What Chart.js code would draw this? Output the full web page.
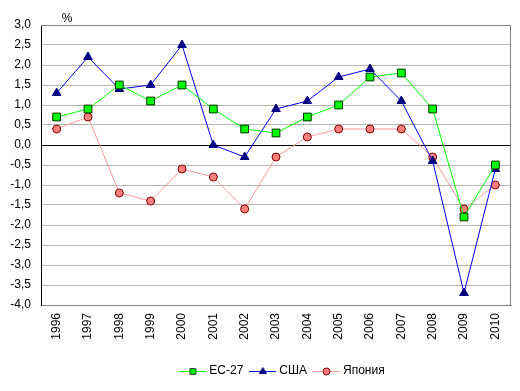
<!DOCTYPE html>
<html>
<head>
<meta charset="utf-8">
<script src="https://cdn.jsdelivr.net/npm/chart.js@4.4.0/dist/chart.umd.min.js"></script>
<style>
  html, body { margin: 0; padding: 0; background: #fff; }
  #wrap { width: 520px; height: 391px; position: relative; }
</style>
</head>
<body>
<div id="wrap"><canvas id="grafico" width="520" height="391"></canvas></div>
<script>
// годы
const years = ['1996','1997','1998','1999','2000','2001','2002','2003','2004','2005','2006','2007','2008','2009','2010'];
// рост, %
const ec27 = [0.7, 0.9, 1.5, 1.1, 1.5, 0.9, 0.4, 0.3, 0.7, 1.0, 1.7, 1.8, 0.9, -1.8, -0.5];
const usa = [1.3, 2.2, 1.4, 1.5, 2.5, 0.0, -0.3, 0.9, 1.1, 1.7, 1.9, 1.1, -0.4, -3.7, -0.6];
const japan = [0.4, 0.7, -1.2, -1.4, -0.6, -0.8, -1.6, -0.3, 0.2, 0.4, 0.4, 0.4, -0.3, -1.6, -1.0];
const seriesNames = ['ЕС-27', 'США', 'Япония'];
const yMin = -4, yMax = 3, yStep = 0.5;

Chart.defaults.font.family = '"Liberation Sans", Arial, sans-serif';
Chart.defaults.font.size = 12;
Chart.defaults.color = '#000';

// маленькая картинка для легенды: линия + маркер
function legendIcon(lineColor, style, fill, border, r){
	let c = document.createElement('canvas');
	c.width = 27; c.height = 12;
	let ctx = c.getContext('2d');
	ctx.strokeStyle = lineColor;
	ctx.lineWidth = 1;
	ctx.beginPath();
	ctx.moveTo(0, 6.5); ctx.lineTo(27, 6.5);
	ctx.stroke();
	ctx.fillStyle = fill;
	ctx.strokeStyle = border;
	Chart.helpers.drawPoint(ctx, {pointStyle: style, radius: r, rotation: 0, borderWidth: 1}, 13.5, 6.5);
	return c;
}

const iconEC = legendIcon('#00ff00', 'rect', '#00ff00', '#003300', 4);
const iconUSA = legendIcon('#0000ff', 'triangle', '#000080', '#000080', 4);
const iconJP = legendIcon('#ff9999', 'circle', '#ff7f7f', '#800000', 3.5);

const extras = {
	id: 'extras',
	afterLayout(chart){
		// легенда в оригинале сдвинута вправо
		chart.legend.left += 28;
		chart.legend.right += 28;
	},
	afterDraw(chart){
		let a = chart.chartArea, ctx = chart.ctx;
		ctx.save();
		ctx.strokeStyle = '#808080';
		ctx.lineWidth = 1;
		ctx.beginPath();
		ctx.moveTo(a.left, a.top + 0.5);
		ctx.lineTo(a.right - 0.5, a.top + 0.5);
		ctx.lineTo(a.right - 0.5, a.bottom);
		ctx.stroke();
		ctx.fillStyle = '#000';
		ctx.font = '12px "Liberation Sans", Arial, sans-serif';
		ctx.textAlign = 'center';
		ctx.fillText('%', 67, 19);
		ctx.restore();
	}
};

new Chart('grafico', {
	type: 'line',
	data: {
		labels: years,
		datasets: [{
			label: seriesNames[0],
			data: ec27,
			borderColor: '#00ff00',
			backgroundColor: '#00ff00',
			pointBackgroundColor: '#00ff00',
			pointBorderColor: '#003300',
			pointStyle: 'rect',
			pointRadius: 5.5,
			borderWidth: 1,
			fill: false
		},
		{
			label: seriesNames[1],
			data: usa,
			borderColor: '#0000ff',
			backgroundColor: '#000080',
			pointBackgroundColor: '#000080',
			pointBorderColor: '#000080',
			pointStyle: 'triangle',
			pointRadius: 5,
			borderWidth: 1,
			fill: false
		},
		{
			label: seriesNames[2],
			data: japan,
			borderColor: '#ff9999',
			backgroundColor: '#ff7f7f',
			pointBackgroundColor: '#ff7f7f',
			pointBorderColor: '#800000',
			pointStyle: 'circle',
			pointRadius: 4,
			borderWidth: 1,
			fill: false
		}]
	},
	options: {
		responsive: false,
		animation: false,
		layout: { padding: { top: 25, right: 9, left: 0, bottom: 4 } },
		plugins: {
			tooltip: { enabled: false },
			legend: {
				display: true,
				position: 'bottom',
				labels: {
					usePointStyle: true,
					pointStyleWidth: 21,
					boxHeight: 12,
					padding: 9,
					generateLabels(chart){
						let icons = [iconEC, iconUSA, iconJP];
						return seriesNames.map((n, i) => ({
							text: n, pointStyle: icons[i], datasetIndex: i,
							fillStyle: '#fff', strokeStyle: '#fff', lineWidth: 0, fontColor: '#000'
						}));
					}
				}
			}
		},
		scales: {
			x: {
				offset: true,
				grid: { display: false, drawTicks: false },
				border: { color: '#808080' },
				ticks: { minRotation: 90, maxRotation: 90, padding: 8, autoSkip: false },
				afterFit(s){ s.height = 51; }
			},
			y: {
				min: yMin,
				max: yMax,
				grid: {
					drawTicks: false,
					color: (c) => c.tick && c.tick.value === 0 ? '#000' : '#b4b4b4'
				},
				border: { color: '#000' },
				ticks: {
					stepSize: yStep,
					padding: 10,
					callback: (v) => v.toFixed(1).replace('.', ',')
				},
				afterFit(s){ s.width = 41; }
			}
		}
	},
	plugins: [extras]
});
</script>
</body>
</html>
